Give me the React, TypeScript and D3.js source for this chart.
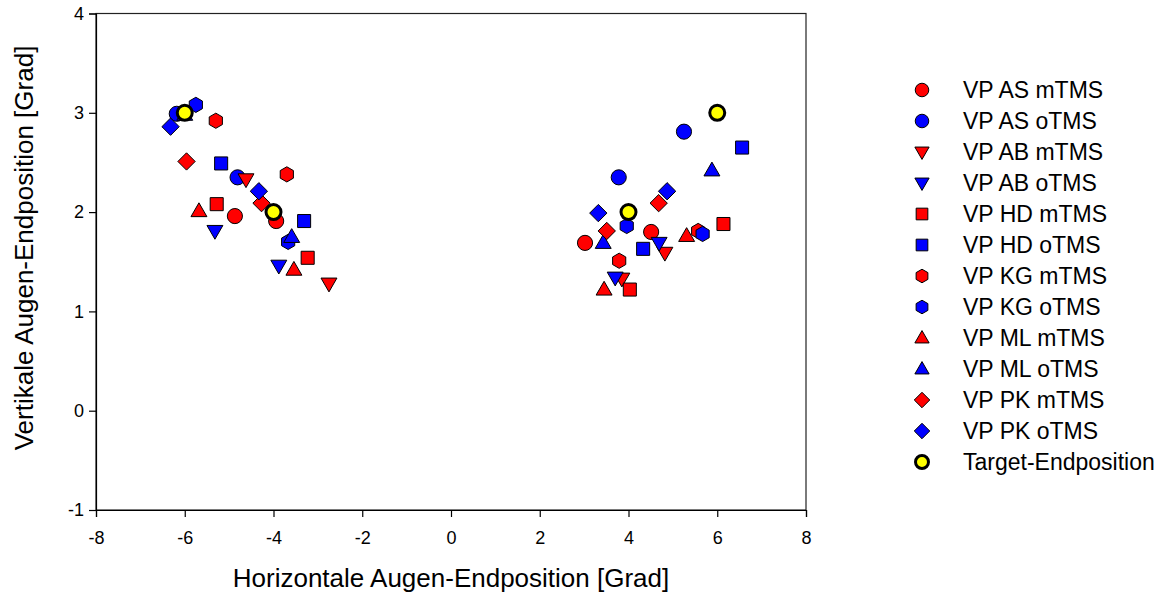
import { useEffect, useRef } from "react";
import * as d3 from "d3";

// data, [x, y] in Grad
const asMTMS = [[-4.87, 1.96], [-3.94, 1.91], [3.02, 1.69], [4.51, 1.8]];
const asOTMS = [[-6.18, 2.99], [-4.81, 2.35], [3.78, 2.35], [5.25, 2.81]];
const abMTMS = [[-4.62, 2.33], [-2.75, 1.28], [3.85, 1.33], [4.82, 1.59]];
const abOTMS = [[-5.32, 1.81], [-3.88, 1.46], [3.7, 1.34], [4.69, 1.69]];
const hdMTMS = [[-5.28, 2.08], [-3.23, 1.54], [4.03, 1.22], [6.14, 1.88]];
const hdOTMS = [[-5.18, 2.49], [-3.31, 1.91], [4.33, 1.63], [6.56, 2.65]];
const kgMTMS = [[-5.3, 2.92], [-3.7, 2.38], [3.79, 1.51], [5.57, 1.81]];
const kgOTMS = [[-5.75, 3.08], [-3.67, 1.7], [3.96, 1.86], [5.67, 1.78]];
const mlMTMS = [[-5.68, 2.01], [-3.54, 1.42], [3.45, 1.22], [5.31, 1.76]];
const mlOTMS = [[-6.0, 2.98], [-3.59, 1.75], [3.43, 1.69], [5.88, 2.42]];
const pkMTMS = [[-5.96, 2.51], [-4.27, 2.09], [3.51, 1.81], [4.68, 2.09]];
const pkOTMS = [[-6.32, 2.86], [-4.33, 2.21], [3.32, 1.99], [4.87, 2.21]];
const targets = [[-6, 3], [-4, 2], [4, 2], [6, 3]];

const xTicks = [-8, -6, -4, -2, 0, 2, 4, 6, 8];
const yTicks = [-1, 0, 1, 2, 3, 4];

// custom symbol types for d3.symbol
const hexagon = {
  draw(ctx: any, size: number) {
    const r = Math.sqrt(size / 2.598);
    for (let i = 0; i < 6; i++) {
      const a = (Math.PI / 3) * i + Math.PI / 6;
      const px = r * Math.cos(a), py = r * Math.sin(a);
      i === 0 ? ctx.moveTo(px, py) : ctx.lineTo(px, py);
    }
    ctx.closePath();
  },
};
const triUp = {
  draw(ctx: any, size: number) {
    const s = Math.sqrt(size / 0.433);
    const h = s * 0.866;
    ctx.moveTo(0, -h * 0.6);
    ctx.lineTo(s / 2, h * 0.4);
    ctx.lineTo(-s / 2, h * 0.4);
    ctx.closePath();
  },
};
const triDown = {
  draw(ctx: any, size: number) {
    const s = Math.sqrt(size / 0.433);
    const h = s * 0.866;
    ctx.moveTo(0, h * 0.6);
    ctx.lineTo(s / 2, -h * 0.4);
    ctx.lineTo(-s / 2, -h * 0.4);
    ctx.closePath();
  },
};
const rhomb = {
  draw(ctx: any, size: number) {
    const r = Math.sqrt(size / 2);
    ctx.moveTo(0, -r);
    ctx.lineTo(r, 0);
    ctx.lineTo(0, r);
    ctx.lineTo(-r, 0);
    ctx.closePath();
  },
};

const series = [
  { name: "VP AS mTMS", data: asMTMS, color: "#ff0000", type: d3.symbolCircle, size: 180 },
  { name: "VP AS oTMS", data: asOTMS, color: "#0000ff", type: d3.symbolCircle, size: 180 },
  { name: "VP AB mTMS", data: abMTMS, color: "#ff0000", type: triDown, size: 110 },
  { name: "VP AB oTMS", data: abOTMS, color: "#0000ff", type: triDown, size: 110 },
  { name: "VP HD mTMS", data: hdMTMS, color: "#ff0000", type: d3.symbolSquare, size: 170 },
  { name: "VP HD oTMS", data: hdOTMS, color: "#0000ff", type: d3.symbolSquare, size: 170 },
  { name: "VP KG mTMS", data: kgMTMS, color: "#ff0000", type: hexagon, size: 150 },
  { name: "VP KG oTMS", data: kgOTMS, color: "#0000ff", type: hexagon, size: 150 },
  { name: "VP ML mTMS", data: mlMTMS, color: "#ff0000", type: triUp, size: 110 },
  { name: "VP ML oTMS", data: mlOTMS, color: "#0000ff", type: triUp, size: 110 },
  { name: "VP PK mTMS", data: pkMTMS, color: "#ff0000", type: rhomb, size: 150 },
  { name: "VP PK oTMS", data: pkOTMS, color: "#0000ff", type: rhomb, size: 150 },
];

const App = () => {
  const ref = useRef(null);

  useEffect(() => {
    if (!ref.current) return;
    const svg = d3.select(ref.current);
    svg.selectAll("*").remove();

    const width = 1169;
    const height = 607;
    const margin = { top: 13.5, right: 363, bottom: 97, left: 96 };
    const font = "'Liberation Sans', Arial, sans-serif";

    svg.attr("viewBox", [0, 0, width, height]);

    const x = d3.scaleLinear().domain([-8, 8]).range([margin.left, width - margin.right]);
    const y = d3.scaleLinear().domain([-1, 4]).range([height - margin.bottom, margin.top]);

    // frame
    svg
      .append("rect")
      .attr("x", x(-8))
      .attr("y", y(4))
      .attr("width", x(8) - x(-8))
      .attr("height", y(-1) - y(4))
      .attr("fill", "none")
      .attr("stroke", "#222")
      .attr("stroke-width", 1.2);

    const gx = svg
      .append("g")
      .attr("transform", `translate(0,${y(-1)})`)
      .call(d3.axisBottom(x).tickValues(xTicks).tickSize(7).tickPadding(14));
    const gy = svg
      .append("g")
      .attr("transform", `translate(${x(-8)},0)`)
      .call(d3.axisLeft(y).tickValues(yTicks).tickSize(7).tickPadding(5));
    [gx, gy].forEach((g) => {
      g.attr("font-size", 18).attr("font-family", font);
      g.select(".domain").attr("stroke", "#000").attr("stroke-width", 1.2);
      g.selectAll(".tick line").attr("stroke", "#000").attr("stroke-width", 1.2);
      g.selectAll(".tick text")
        .attr("fill", "#000")
        .style("font-size", "18px")
        .style("font-family", font)
        .text((d: any) => (d < 0 ? "-" + Math.abs(d) : String(d)));
    });

    svg
      .append("text")
      .attr("x", (x(-8) + x(8)) / 2)
      .attr("y", 587)
      .attr("text-anchor", "middle")
      .attr("font-family", font)
      .attr("font-size", 26)
      .text("Horizontale Augen-Endposition [Grad]");

    svg
      .append("text")
      .attr("transform", `translate(33,248) rotate(-90)`)
      .attr("text-anchor", "middle")
      .attr("font-family", font)
      .attr("font-size", 26)
      .text("Vertikale Augen-Endposition [Grad]");

    const sym = d3.symbol();

    series.forEach((s) => {
      svg
        .append("g")
        .selectAll("path")
        .data(s.data)
        .join("path")
        .attr("transform", (d) => `translate(${x(d[0])},${y(d[1])})`)
        .attr("d", sym.type(s.type as any).size(s.size)() as string)
        .attr("fill", s.color)
        .attr("stroke", "#000")
        .attr("stroke-width", 1);
    });

    svg
      .append("g")
      .selectAll("circle")
      .data(targets)
      .join("circle")
      .attr("cx", (d) => x(d[0]))
      .attr("cy", (d) => y(d[1]))
      .attr("r", 7.5)
      .attr("fill", "#ffff00")
      .attr("stroke", "#000")
      .attr("stroke-width", 3);

    // legend
    const legendItems = [...series.map((s) => s.name), "Target-Endposition"];
    const ly = d3.scalePoint().domain(legendItems).range([90, 462]);
    const lg = svg.append("g");
    series.forEach((s) => {
      lg.append("path")
        .attr("transform", `translate(922,${ly(s.name)})`)
        .attr("d", sym.type(s.type as any).size(s.size * 0.8)() as string)
        .attr("fill", s.color)
        .attr("stroke", "#000")
        .attr("stroke-width", 1);
    });
    lg.append("circle")
      .attr("cx", 922)
      .attr("cy", ly("Target-Endposition") as number)
      .attr("r", 6.5)
      .attr("fill", "#ffff00")
      .attr("stroke", "#000")
      .attr("stroke-width", 3);
    lg.selectAll("text")
      .data(legendItems)
      .join("text")
      .attr("x", 963)
      .attr("y", (d) => ly(d) as number)
      .attr("dy", "0.36em")
      .attr("font-family", font)
      .attr("font-size", 23)
      .attr("fill", "#000")
      .text((d) => d);
  }, []);

  return (
    <svg
      ref={ref}
      width={1169}
      height={607}
      style={{ position: "absolute", left: 0, top: 0, background: "#fff" }}
    ></svg>
  );
};

export default App;
